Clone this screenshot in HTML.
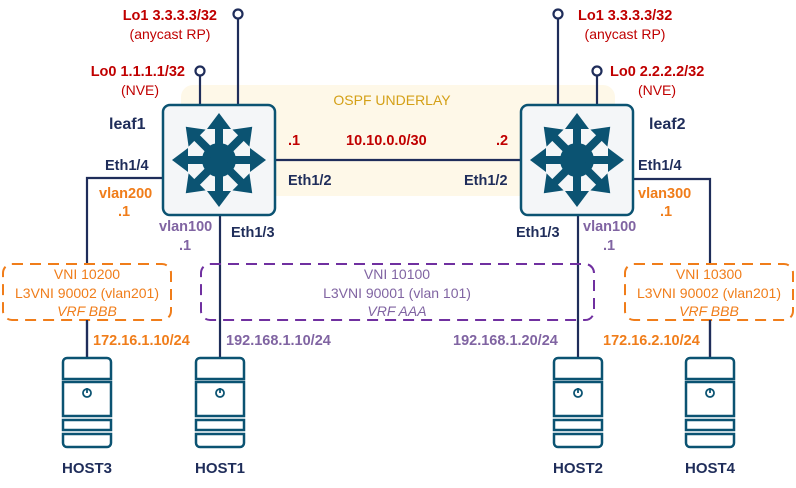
<!DOCTYPE html>
<html><head><meta charset="utf-8"><style>
body{margin:0;background:#fff}
svg{display:block}
text{font-family:"Liberation Sans",sans-serif;font-size:14px}
.b{font-weight:bold;font-size:14.5px}
.r{fill:#c00000}
.n{fill:#1f2d5a}
.o{fill:#f07d1a}
.p{fill:#8064a2}
.y{fill:#d4a017}
</style></head><body>
<svg width="796" height="488" viewBox="0 0 796 488" xmlns="http://www.w3.org/2000/svg">
<defs>
<g id="sw">
<rect x="-56" y="-55" width="112" height="110" rx="7" fill="#f4f6f8" stroke="#0b5372" stroke-width="2.5"/>
<circle r="17" fill="#0b5372"/>
<g id="ar" fill="#0b5372"><rect x="-4" y="-34" width="8" height="26"/><polygon points="-12,-31 12,-31 0,-47"/></g>
<use href="#ar" transform="rotate(45)"/><use href="#ar" transform="rotate(90)"/><use href="#ar" transform="rotate(135)"/>
<use href="#ar" transform="rotate(180)"/><use href="#ar" transform="rotate(225)"/><use href="#ar" transform="rotate(270)"/><use href="#ar" transform="rotate(315)"/>
</g>
<g id="host" fill="none" stroke="#0b5372" stroke-width="2.5">
<path d="M-24,21 V4 a4,4 0 0 1 4,-4 H20 a4,4 0 0 1 4,4 V21 Z"/>
<rect x="-24" y="24" width="48" height="34"/>
<rect x="-24" y="62" width="48" height="10"/>
<path d="M-24,76 H24 V85 a4,4 0 0 1 -4,4 H-20 a4,4 0 0 1 -4,-4 Z"/>
<circle cx="0" cy="35" r="4" stroke-width="1.8"/><line x1="0" y1="30" x2="0" y2="35" stroke-width="1.8"/>
</g>
</defs>
<rect x="181" y="85" width="434" height="111" rx="12" fill="#fef8e8"/>
<g stroke="#1f2d5a" stroke-width="2.2" fill="none">
<line x1="200" y1="76" x2="200" y2="106"/><line x1="238" y1="18" x2="238" y2="106"/>
<line x1="558" y1="18" x2="558" y2="106"/><line x1="597" y1="76" x2="597" y2="106"/>
<line x1="275" y1="160" x2="522" y2="160"/>
<polyline points="163,178 87,178 87,358"/>
<polyline points="632,179 710,179 710,358"/>
<line x1="220" y1="215" x2="220" y2="358"/>
<line x1="578" y1="215" x2="578" y2="358"/>
<circle cx="200" cy="71" r="4.5" fill="#fff"/><circle cx="238" cy="14" r="4.5" fill="#fff"/>
<circle cx="558" cy="14" r="4.5" fill="#fff"/><circle cx="597" cy="71" r="4.5" fill="#fff"/>
</g>
<use href="#sw" x="219" y="160"/><use href="#sw" x="577" y="160"/>
<rect x="3" y="264" width="168" height="56" rx="9" fill="#fff" stroke="#f07d1a" stroke-width="2" stroke-dasharray="11,7"/>
<rect x="625" y="264" width="168" height="56" rx="9" fill="#fff" stroke="#f07d1a" stroke-width="2" stroke-dasharray="11,7"/>
<rect x="201" y="264" width="393" height="56" rx="9" fill="none" stroke="#7030a0" stroke-width="2" stroke-dasharray="11,7"/>
<line x1="87" y1="320" x2="87" y2="358" stroke="#1f2d5a" stroke-width="2.2"/>
<line x1="710" y1="320" x2="710" y2="358" stroke="#1f2d5a" stroke-width="2.2"/>
<use href="#host" x="87" y="358"/><use href="#host" x="220" y="358"/><use href="#host" x="578" y="358"/><use href="#host" x="710" y="358"/>
<text class="b r" x="217" y="20" text-anchor="end">Lo1 3.3.3.3/32</text>
<text class="r" x="170" y="39" text-anchor="middle">(anycast RP)</text>
<text class="b r" x="185" y="76" text-anchor="end">Lo0 1.1.1.1/32</text>
<text class="r" x="140" y="95" text-anchor="middle">(NVE)</text>
<text class="b r" x="578" y="20">Lo1 3.3.3.3/32</text>
<text class="r" x="625" y="39" text-anchor="middle">(anycast RP)</text>
<text class="b r" x="610" y="76">Lo0 2.2.2.2/32</text>
<text class="r" x="657" y="95" text-anchor="middle">(NVE)</text>
<text class="y" x="392" y="105" text-anchor="middle">OSPF UNDERLAY</text>
<text class="b n" x="109" y="129" style="font-size:16px">leaf1</text>
<text class="b n" x="649" y="129" style="font-size:16px">leaf2</text>
<text class="b r" x="288" y="145">.1</text>
<text class="b r" x="346" y="145">10.10.0.0/30</text>
<text class="b r" x="496" y="145">.2</text>
<text class="b n" x="288" y="185">Eth1/2</text>
<text class="b n" x="464" y="185">Eth1/2</text>
<text class="b n" x="105" y="170">Eth1/4</text>
<text class="b n" x="638" y="170">Eth1/4</text>
<text class="b o" x="99" y="198">vlan200</text>
<text class="b o" x="118" y="216">.1</text>
<text class="b o" x="638" y="198">vlan300</text>
<text class="b o" x="660" y="216">.1</text>
<text class="b p" x="159" y="231">vlan100</text>
<text class="b p" x="179" y="250">.1</text>
<text class="b p" x="583" y="231">vlan100</text>
<text class="b p" x="603" y="250">.1</text>
<text class="b n" x="231" y="237">Eth1/3</text>
<text class="b n" x="516" y="237">Eth1/3</text>
<text class="o" x="87" y="279" text-anchor="middle">VNI 10200</text>
<text class="o" x="87" y="298" text-anchor="middle">L3VNI 90002 (vlan201)</text>
<text class="o" x="87" y="316" text-anchor="middle" font-style="italic">VRF BBB</text>
<text class="o" x="709" y="279" text-anchor="middle">VNI 10300</text>
<text class="o" x="709" y="298" text-anchor="middle">L3VNI 90002 (vlan201)</text>
<text class="o" x="709" y="316" text-anchor="middle" font-style="italic">VRF BBB</text>
<text class="p" x="397" y="279" text-anchor="middle">VNI 10100</text>
<text class="p" x="397" y="298" text-anchor="middle">L3VNI 90001 (vlan 101)</text>
<text class="p" x="397" y="316" text-anchor="middle" font-style="italic">VRF AAA</text>
<text class="b o" x="93" y="345">172.16.1.10/24</text>
<text class="b p" x="226" y="345">192.168.1.10/24</text>
<text class="b p" x="453" y="345">192.168.1.20/24</text>
<text class="b o" x="603" y="345">172.16.2.10/24</text>
<text class="b n" x="87" y="473" text-anchor="middle" style="font-size:15px">HOST3</text>
<text class="b n" x="220" y="473" text-anchor="middle" style="font-size:15px">HOST1</text>
<text class="b n" x="578" y="473" text-anchor="middle" style="font-size:15px">HOST2</text>
<text class="b n" x="710" y="473" text-anchor="middle" style="font-size:15px">HOST4</text>
</svg>
</body></html>
